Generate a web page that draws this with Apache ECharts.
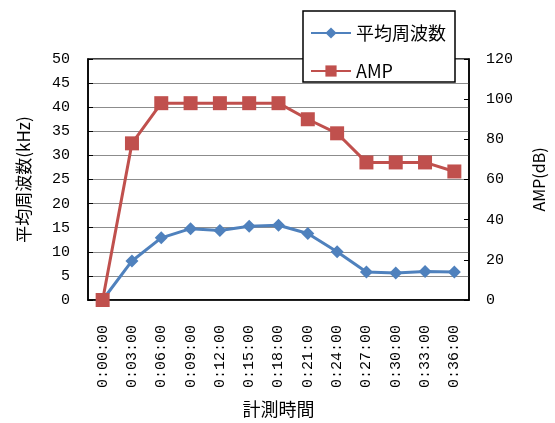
<!DOCTYPE html>
<html>
<head>
<meta charset="utf-8">
<script src="https://cdn.jsdelivr.net/npm/echarts@6/dist/echarts.min.js"></script>
<style>html,body{margin:0;padding:0;background:#fff}#c{width:555px;height:423px}</style>
</head>
<body>
<div id="c"></div>
<script>
const categories = ['0:00:00','0:03:00','0:06:00','0:09:00','0:12:00','0:15:00','0:18:00','0:21:00','0:24:00','0:27:00','0:30:00','0:33:00','0:36:00'];
const freqName = '平均周波数';
const freqValues = [0, 8.1, 12.9, 14.8, 14.4, 15.3, 15.5, 13.8, 10.0, 5.8, 5.6, 5.9, 5.8];
const ampName = 'AMP';
const ampValues = [0, 78, 98, 98, 98, 98, 98, 90, 83, 68.5, 68.5, 68.5, 64];
const leftAxisName = '平均周波数(kHz)';
const rightAxisName = 'AMP(dB)';
const xAxisName = '計測時間';

const numFont = 'Liberation Mono';
const cjkFont = 'Noto Sans CJK JP';
const chart = echarts.init(document.getElementById('c'));
chart.setOption({
  animation: false,
  backgroundColor: '#fff',
  grid: { left: 88, right: 82, top: 59, bottom: 121, show: true, borderColor: '#000', borderWidth: 1.5, backgroundColor: 'transparent' },
  graphic: [{
    type: 'rect', z: 50,
    shape: { x: 303, y: 11, width: 152, height: 71 },
    style: { fill: '#fff', stroke: '#000', lineWidth: 1.5 }
  }],
  legend: {
    z: 60, orient: 'vertical', left: 310, top: 24, padding: 0,
    itemGap: 20, itemWidth: 40, itemHeight: 14,
    textStyle: { fontFamily: cjkFont, fontSize: 18, color: '#000' },
    data: [freqName, ampName]
  },
  xAxis: {
    type: 'category', data: categories, boundaryGap: true,
    name: xAxisName, nameLocation: 'middle', nameGap: 100,
    nameTextStyle: { fontFamily: cjkFont, fontSize: 18, color: '#000' },
    axisLine: { lineStyle: { color: '#000', width: 1.5 } },
    axisTick: { inside: true, length: 6, lineStyle: { color: '#000' } },
    axisLabel: { rotate: 90, margin: 25, fontFamily: numFont, fontSize: 15, color: '#000' },
    splitLine: { show: false }
  },
  yAxis: [{
    type: 'value', min: 0, max: 50, interval: 5,
    name: leftAxisName, nameLocation: 'middle', nameGap: 56, nameRotate: 90,
    nameTextStyle: { fontFamily: cjkFont, fontSize: 17, color: '#000' },
    axisLine: { show: true, lineStyle: { color: '#000', width: 1.5 } },
    axisTick: { show: true, inside: true, length: 5, lineStyle: { color: '#000' } },
    axisLabel: { margin: 18, fontFamily: numFont, fontSize: 15, color: '#000' },
    splitLine: { show: true, lineStyle: { color: '#8c8c8c', width: 1 } }
  }, {
    type: 'value', min: 0, max: 120, interval: 20, position: 'right',
    name: rightAxisName, nameLocation: 'middle', nameGap: 62, nameRotate: 90,
    nameTextStyle: { fontFamily: cjkFont, fontSize: 16, color: '#000' },
    axisLine: { show: true, lineStyle: { color: '#000', width: 1.5 } },
    axisTick: { show: true, inside: true, length: 5, lineStyle: { color: '#000' } },
    axisLabel: { margin: 17, fontFamily: numFont, fontSize: 15, color: '#000' },
    splitLine: { show: false }
  }],
  series: [{
    name: freqName, type: 'line', yAxisIndex: 0, data: freqValues, clip: false,
    symbol: 'diamond', symbolSize: 13,
    itemStyle: { color: '#4F81BD' },
    lineStyle: { color: '#4F81BD', width: 3 }
  }, {
    name: ampName, type: 'line', yAxisIndex: 1, data: ampValues, clip: false,
    symbol: 'rect', symbolSize: 14,
    itemStyle: { color: '#C0504D' },
    lineStyle: { color: '#C0504D', width: 3 }
  }]
});
</script>
</body>
</html>
